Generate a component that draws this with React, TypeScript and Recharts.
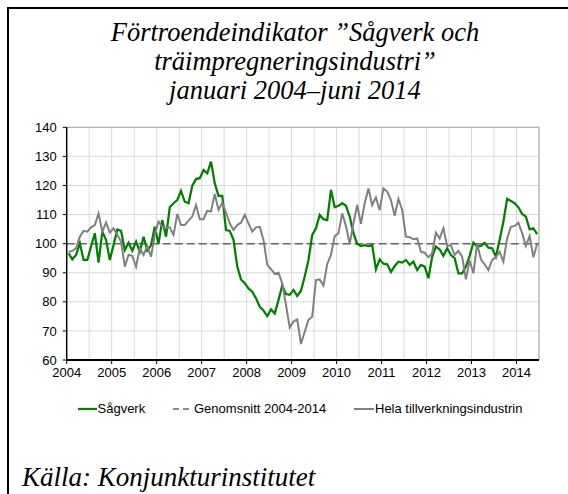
import React from "react";
import { LineChart, Line, XAxis, YAxis, CartesianGrid, ReferenceLine } from "recharts";

// Monthly values, januari 2004 – juni 2014 (126 months)
const sagverk = [
  96.7, 94.6, 96.1, 100.2, 94.4, 94.4, 99, 103.6, 93.5, 104.1, 101.3, 94.4,
  99.5, 104.9, 104.4, 97.8, 100.3, 97.6, 100.7, 97.2, 102.4, 97.6, 99.5, 105.8,
  99.9, 108.1, 102.4, 112.5, 113.9, 115, 118.1, 114.4, 113.9, 119.9, 122.2, 122.5,
  125.3, 124.2, 128.2, 120.7, 116.4, 116.4, 104.7, 104.4, 101.3, 92.1, 87.7, 86.4,
  84.6, 83.5, 81.2, 78.3, 77, 75.1, 77.4, 76, 80.6, 85.6, 82.7, 82.4,
  84.1, 82, 83.8, 88.7, 94.4, 103, 105.3, 109.9, 108.4, 108.1, 118.5, 112.5,
  113, 113.9, 113, 109.3, 103.6, 99.9, 99.2, 99.5, 99.2, 99.5, 91.2, 94.6,
  93.1, 92.9, 90.3, 92.3, 93.8, 93.5, 94.4, 92.7, 93.8, 90.9, 92.7, 92.1,
  88.1, 95.5, 99, 98, 95.8, 98.4, 96.1, 95, 89.8, 89.8, 92.1, 95.8,
  100.3, 99, 99.2, 100.3, 98.6, 98.4, 95.5, 101.3, 107.6, 115.4, 114.7, 113.9,
  112.5, 110.2, 109.3, 104.9, 105.3, 103.3,
];

const hela = [
  97.2, 97.5, 98.4, 102.4, 104.4, 104.1, 105.6, 106.4, 110.4, 104.1, 107.3, 103.8,
  105.3, 103, 100.7, 92.1, 96.1, 95.8, 92.1, 98.4, 96.1, 99.2, 95.5, 103,
  107.6, 105.8, 105.3, 105.6, 103, 110.2, 106.4, 106.4, 107.9, 109.3, 113.3, 108.4,
  108.4, 111.3, 111, 117.1, 111.6, 114.1, 110.7, 107, 104.7, 106.4, 107.2, 109.9,
  107, 104.1, 105.6, 105.8, 101.3, 92.7, 91.2, 89.6, 90, 86.4, 78.9, 71.2,
  73.2, 74, 65.5, 69.7, 73.8, 74.9, 87.5, 87.7, 85.6, 93, 96.1, 102.6,
  103.6, 110.4, 106.1, 99.9, 107, 113.3, 106.8, 113.9, 119, 113.3, 115.9, 111.5,
  119, 117.9, 115, 109.6, 115.4, 111.6, 102.4, 102.2, 101.5, 101.8, 97.2, 96.9,
  95.3, 96.7, 103.8, 101.8, 105.3, 99.2, 99.5, 96.1, 97.5, 95.5, 87.7, 94.2,
  89.8, 99.9, 94.6, 92.9, 90.9, 94.4, 95.3, 97.2, 93.8, 101.8, 105.8, 106.1,
  107.2, 103.6, 99.2, 102.6, 95.3, 99.9,
];

const years = [2004, 2005, 2006, 2007, 2008, 2009, 2010, 2011, 2012, 2013, 2014];
const yTicks = [60, 70, 80, 90, 100, 110, 120, 130, 140];
const genomsnitt = 100;

// t = months since januari 2004, taken mid-month
const data = sagverk.map((v, i) => ({ t: i + 0.5, sagverk: v, hela: hela[i] }));
const yearStarts = years.map((y) => (y - 2004) * 12);
const halfYears = years.flatMap((y) => [(y - 2004) * 12, (y - 2004) * 12 + 6]).filter((m) => m > 0);

const sans = "'Liberation Sans', Arial, sans-serif";
const serif = "'Liberation Serif', 'Times New Roman', serif";

export default function App() {
  return (
    <div style={{ position: "absolute", left: 0, top: 0, width: 568, height: 494, background: "#fff", overflow: "hidden" }}>
      <div style={{ position: "absolute", left: 7, top: 7, width: 561, height: 2, background: "#000" }} />
      <div style={{ position: "absolute", left: 7, top: 7, width: 2, height: 487, background: "#000" }} />

      <div
        style={{
          position: "absolute",
          left: 20,
          top: 18,
          width: 550,
          textAlign: "center",
          fontFamily: serif,
          fontStyle: "italic",
          fontSize: 26.5,
          lineHeight: "29px",
          color: "#000",
        }}
      >
        <div>Förtroendeindikator ”Sågverk och</div>
        <div>träimpregneringsindustri”</div>
        <div>januari 2004–juni 2014</div>
      </div>

      <div style={{ position: "absolute", left: 0, top: 0 }}>
        <LineChart width={568} height={494} data={data} margin={{ top: 127.3, right: 29, bottom: 104, left: 26.7 }}>
          <CartesianGrid vertical={false} stroke="#d9d9d9" strokeWidth={1} />
          {halfYears.map((m) => (
            <ReferenceLine key={m} x={m} stroke="#d9d9d9" strokeWidth={1} ifOverflow="extendDomain" />
          ))}
          <ReferenceLine y={140} stroke="#a6a6a6" strokeWidth={1} />
          <ReferenceLine x={126} stroke="#a6a6a6" strokeWidth={1} />
          <XAxis
            type="number"
            dataKey="t"
            domain={[0, 126]}
            ticks={yearStarts}
            tickFormatter={(m: number) => String(2004 + m / 12)}
            height={30}
            axisLine={{ stroke: "#000", strokeWidth: 2 }}
            tickLine={{ stroke: "#000" }}
            tickSize={4}
            tickMargin={4}
            tick={{ fill: "#000", fontSize: 13, fontFamily: sans }}
            interval={0}
            allowDataOverflow
          />
          <YAxis
            domain={[60, 140]}
            ticks={yTicks}
            width={40}
            axisLine={{ stroke: "#000", strokeWidth: 1.5 }}
            tickLine={{ stroke: "#000" }}
            tickSize={4}
            tickMargin={6}
            tick={{ fill: "#000", fontSize: 13, fontFamily: sans }}
            interval={0}
            allowDataOverflow
          />
          <ReferenceLine y={genomsnitt} stroke="#666" strokeWidth={1.5} strokeDasharray="8 4" />
          <Line
            type="linear"
            dataKey="sagverk"
            stroke="#008000"
            strokeWidth={2.25}
            dot={false}
            isAnimationActive={false}
          />
          <Line
            type="linear"
            dataKey="hela"
            stroke="#808080"
            strokeWidth={2}
            dot={false}
            isAnimationActive={false}
          />
        </LineChart>
      </div>

      <div style={{ position: "absolute", left: 0, top: 401, width: 568, height: 16, fontFamily: sans, fontSize: 13, lineHeight: "16px", color: "#000" }}>
        <svg style={{ position: "absolute", left: 78, top: 0 }} width={20} height={16}>
          <line x1={0} y1={8} x2={19} y2={8} stroke="#008000" strokeWidth={2.25} />
        </svg>
        <span style={{ position: "absolute", left: 97.5, top: 0 }}>Sågverk</span>
        <svg style={{ position: "absolute", left: 173, top: 0 }} width={20} height={16}>
          <line x1={0} y1={8} x2={17} y2={8} stroke="#666" strokeWidth={1.5} strokeDasharray="6 4" />
        </svg>
        <span style={{ position: "absolute", left: 194, top: 0 }}>Genomsnitt 2004-2014</span>
        <svg style={{ position: "absolute", left: 354, top: 0 }} width={22} height={16}>
          <line x1={0} y1={8} x2={20} y2={8} stroke="#808080" strokeWidth={2} />
        </svg>
        <span style={{ position: "absolute", left: 375, top: 0 }}>Hela tillverkningsindustrin</span>
      </div>

      <div
        style={{
          position: "absolute",
          left: 22,
          top: 461.6,
          fontFamily: serif,
          fontStyle: "italic",
          fontSize: 27,
          lineHeight: "30px",
          color: "#000",
          whiteSpace: "nowrap",
        }}
      >
        Källa: Konjunkturinstitutet
      </div>
    </div>
  );
}
